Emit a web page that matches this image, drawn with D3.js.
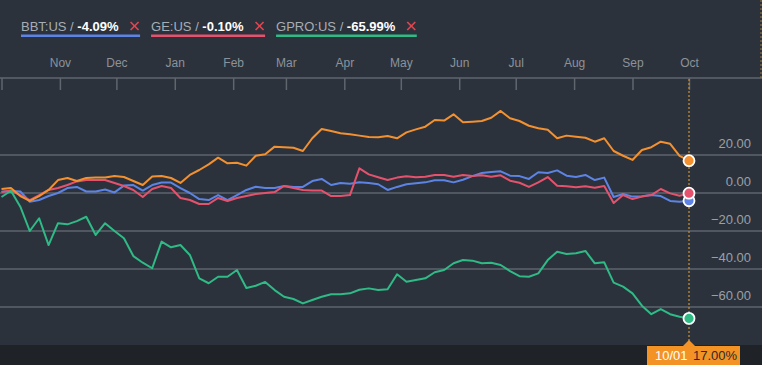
<!DOCTYPE html>
<html>
<head>
<meta charset="utf-8">
<script src="https://cdn.jsdelivr.net/npm/d3@7/dist/d3.min.js"></script>
<style>
html,body{margin:0;padding:0;background:#2b323c;}
svg{display:block;font-family:"Liberation Sans",Arial,sans-serif;}
</style>
</head>
<body>
<svg id="chart" width="762" height="365"></svg>
<script>
const dates = ["2018-10-01","2018-10-06","2018-10-11","2018-10-16","2018-10-21","2018-10-26","2018-10-31",
"2018-11-05","2018-11-10","2018-11-15","2018-11-20","2018-11-25","2018-11-30","2018-12-05","2018-12-10",
"2018-12-15","2018-12-20","2018-12-25","2018-12-30","2019-01-04","2019-01-09","2019-01-14","2019-01-19",
"2019-01-24","2019-01-29","2019-02-03","2019-02-08","2019-02-13","2019-02-18","2019-02-23","2019-02-28",
"2019-03-05","2019-03-10","2019-03-15","2019-03-20","2019-03-25","2019-03-30","2019-04-04","2019-04-09",
"2019-04-14","2019-04-19","2019-04-24","2019-04-29","2019-05-04","2019-05-09","2019-05-14","2019-05-19",
"2019-05-24","2019-05-29","2019-06-03","2019-06-08","2019-06-13","2019-06-18","2019-06-23","2019-06-28",
"2019-07-03","2019-07-08","2019-07-13","2019-07-18","2019-07-23","2019-07-28","2019-08-02","2019-08-07",
"2019-08-12","2019-08-17","2019-08-22","2019-08-27","2019-09-01","2019-09-06","2019-09-11","2019-09-16",
"2019-09-21","2019-09-26","2019-10-01"];

const mainSeries = [2.1,2.6,-1.6,-4.2,-1.6,1.6,6.8,7.9,6.3,7.9,8.2,8.2,8.9,8.4,6.3,4.2,8.7,8.9,7.9,5.3,
9.5,12.1,15.1,18.6,15.6,15.9,14.4,19.6,20.4,24.4,24.1,23.8,22.1,28.8,33.7,32.6,31.4,30.9,30.2,29.5,
29.3,30.0,28.8,31.9,33.5,34.9,38.4,38.1,41.4,37.2,37.5,37.9,39.6,43.2,39.3,37.9,35.4,34.1,33.3,28.8,
30.2,29.6,29.1,27.0,28.8,22.1,19.6,17.4,22.6,24.1,27.0,25.9,19.5,17.0];

const bbtSeries = [0.7,1.1,0.8,-4.6,-3.7,-1.6,0.0,2.6,3.2,0.8,0.8,1.8,0.3,3.9,4.2,1.3,4.2,5.5,5.5,2.6,
0.0,-3.2,-3.7,-1.1,-3.7,-1.1,1.6,3.3,2.6,2.6,3.7,3.2,3.2,6.3,7.4,4.2,5.3,4.9,5.6,5.3,
4.6,1.6,3.2,4.6,5.1,5.6,6.7,6.7,5.6,7.0,8.9,10.5,11.1,11.4,9.1,8.9,7.4,10.9,10.5,11.9,
9.1,8.4,9.5,6.8,8.1,-2.1,-0.5,-1.9,-1.7,-1.1,-1.6,-4.2,-4.6,-4.09];

const geSeries = [0.5,1.3,-1.1,-3.7,-1.1,1.6,2.6,4.2,6.1,6.8,6.8,6.8,5.3,3.7,1.6,-2.1,2.1,3.7,2.6,-2.6,
-3.7,-5.8,-5.8,-2.6,-4.2,-2.6,-1.6,-0.5,0.0,0.5,3.7,2.6,1.6,1.3,1.3,-1.6,-1.6,-1.1,13.0,9.8,
8.3,6.8,8.1,8.8,8.3,8.6,9.5,9.5,8.6,9.5,8.9,9.3,8.6,9.3,6.5,5.4,3.2,5.6,8.4,3.8,
3.5,3.0,3.5,2.8,3.7,-5.3,-1.1,-3.2,-1.9,-1.1,2.1,-0.2,-1.4,-0.10];

const gproSeries = [-2.1,1.2,-7.2,-20.0,-13.3,-27.4,-15.9,-16.5,-14.8,-12.5,-22.1,-15.9,-20.0,-23.8,-33.2,
-36.7,-39.6,-25.6,-28.6,-27.4,-32.6,-44.9,-47.5,-44.1,-44.1,-40.5,-50.0,-48.8,-46.8,-51.1,-54.6,-55.8,
-58.1,-56.3,-54.6,-53.3,-53.3,-52.8,-50.9,-50.2,-51.1,-50.7,-42.8,-46.7,-45.8,-44.9,-41.7,-40.5,-37.0,
-35.3,-35.6,-37.0,-36.7,-37.9,-41.1,-43.8,-44.1,-42.3,-35.3,-30.9,-32.1,-31.7,-30.5,-37.0,-36.5,-47.2,
-49.3,-52.8,-59.3,-63.8,-61.1,-63.8,-65.1,-65.99];

const legendNames = ["BBT:US", "GE:US", "GPRO:US"];
const legendValues = ["-4.09%", "-0.10%", "-65.99%"];
const yTicks = [20, 0, -20, -40, -60];
const tooltipDate = "10/01";
const tooltipValue = "17.00%";

const colors = {main:"#f39130", bbt:"#5d84e4", ge:"#e5526d", gpro:"#2fba86"};

const parse = d3.timeParse("%Y-%m-%d");
const dd = dates.map(parse);
const svg = d3.select("#chart");
const W = 762, H = 365;

svg.append("rect").attr("width", W).attr("height", H).attr("fill", "#2b323c");
svg.append("rect").attr("x", 0).attr("y", 345).attr("width", W).attr("height", 20).attr("fill", "#1f2226");

const x = d3.scaleTime().domain([dd[0], dd[dd.length - 1]]).range([1.5, 689]);
const y = d3.scaleLinear().domain([-60, 20]).range([307, 155]);

// gridlines
svg.append("g").selectAll("line").data(yTicks).join("line")
  .attr("x1", 0).attr("x2", W)
  .attr("y1", d => y(d)).attr("y2", d => y(d))
  .attr("stroke", "#5f656d").attr("stroke-width", 1.5);

svg.append("g").selectAll("text").data(yTicks).join("text")
  .attr("x", 751).attr("y", d => y(d) - 7)
  .attr("text-anchor", "end").attr("fill", "#9aa0a8")
  .attr("font-size", 13).text(d => d3.format(".2f")(d));

// x axis ticks
const months = d3.timeMonth.range(dd[0], d3.timeDay.offset(dd[dd.length - 1], 1));
const axTicks = svg.append("g").attr("transform", "translate(0,78)")
  .call(d3.axisBottom(x).tickValues(months).tickSize(12).tickFormat(""));
axTicks.select(".domain").remove();
axTicks.selectAll("line").attr("stroke", "#60666e").attr("stroke-width", 1.5);
svg.append("line").attr("x1", 0).attr("x2", W).attr("y1", 78).attr("y2", 78)
  .attr("stroke", "#60666e").attr("stroke-width", 1.5);

const axLabels = svg.append("g").attr("transform", "translate(0,67)")
  .call(d3.axisTop(x).tickValues(months.slice(1)).tickSize(0).tickPadding(0).tickFormat(d3.timeFormat("%b")));
axLabels.select(".domain").remove();
axLabels.selectAll("text").attr("fill", "#8c929a").attr("font-size", 12)
  .attr("font-family", "'Liberation Sans',Arial,sans-serif").attr("dy", 0);

// dotted crosshair
svg.append("line").attr("x1", x(dd[dd.length-1])).attr("x2", x(dd[dd.length-1]))
  .attr("y1", 79).attr("y2", 341).attr("stroke", "#c08a38").attr("stroke-width", 1.3)
  .attr("stroke-dasharray", "2,2");
svg.append("line").attr("x1", 761).attr("x2", 761).attr("y1", 0).attr("y2", 78)
  .attr("stroke", "#a07a3a").attr("stroke-width", 1).attr("stroke-dasharray", "2,2");

// lines
const seriesList = [
  {vals: bbtSeries, color: colors.bbt},
  {vals: geSeries, color: colors.ge},
  {vals: gproSeries, color: colors.gpro},
  {vals: mainSeries, color: colors.main}
];
const line = d3.line().x((d, i) => x(dd[i])).y(d => y(d));
seriesList.forEach(s => {
  svg.append("path").datum(s.vals).attr("d", line)
    .attr("fill", "none").attr("stroke", s.color).attr("stroke-width", 2)
    .attr("stroke-linejoin", "round");
});
seriesList.forEach(s => {
  const last = s.vals.length - 1;
  svg.append("circle").attr("cx", x(dd[last])).attr("cy", y(s.vals[last]))
    .attr("r", 5.5).attr("fill", s.color).attr("stroke", "#ffffff").attr("stroke-width", 1.8);
});

// legend
const legColors = [colors.bbt, colors.ge, colors.gpro];
let lx = 21;
legendNames.forEach((n, i) => {
  const g = svg.append("g");
  const t = g.append("text").attr("x", lx).attr("y", 31).attr("font-size", 13);
  t.append("tspan").attr("fill", "#a8adb4").text(n + " / ");
  t.append("tspan").attr("fill", "#ffffff").attr("font-weight", "bold").text(legendValues[i]);
  const tw = t.node().getComputedTextLength();
  const cx = lx + tw + 16;
  g.append("line").attr("x1", cx - 4).attr("x2", cx + 4).attr("y1", 22).attr("y2", 30)
    .attr("stroke", "#e5454f").attr("stroke-width", 1.6);
  g.append("line").attr("x1", cx + 4).attr("x2", cx - 4).attr("y1", 22).attr("y2", 30)
    .attr("stroke", "#e5454f").attr("stroke-width", 1.6);
  const end = cx + 5.5;
  g.append("rect").attr("x", lx).attr("y", 34.5).attr("width", end - lx).attr("height", 2.5)
    .attr("fill", legColors[i]);
  lx = end + 11;
});

// tooltip box
const tx = x(dd[dd.length-1]);
svg.append("path").attr("d", `M${tx-6},346 L${tx},340 L${tx+6},346 Z`).attr("fill", "#f39326");
svg.append("rect").attr("x", 647).attr("y", 346).attr("width", 93).attr("height", 19).attr("fill", "#f39326");
svg.append("text").attr("x", 655).attr("y", 360).attr("font-size", 13).attr("fill", "#ffffff").text(tooltipDate);
svg.append("text").attr("x", 693).attr("y", 360).attr("font-size", 13).attr("fill", "#2a2a2a").text(tooltipValue);
</script>
</body>
</html>
